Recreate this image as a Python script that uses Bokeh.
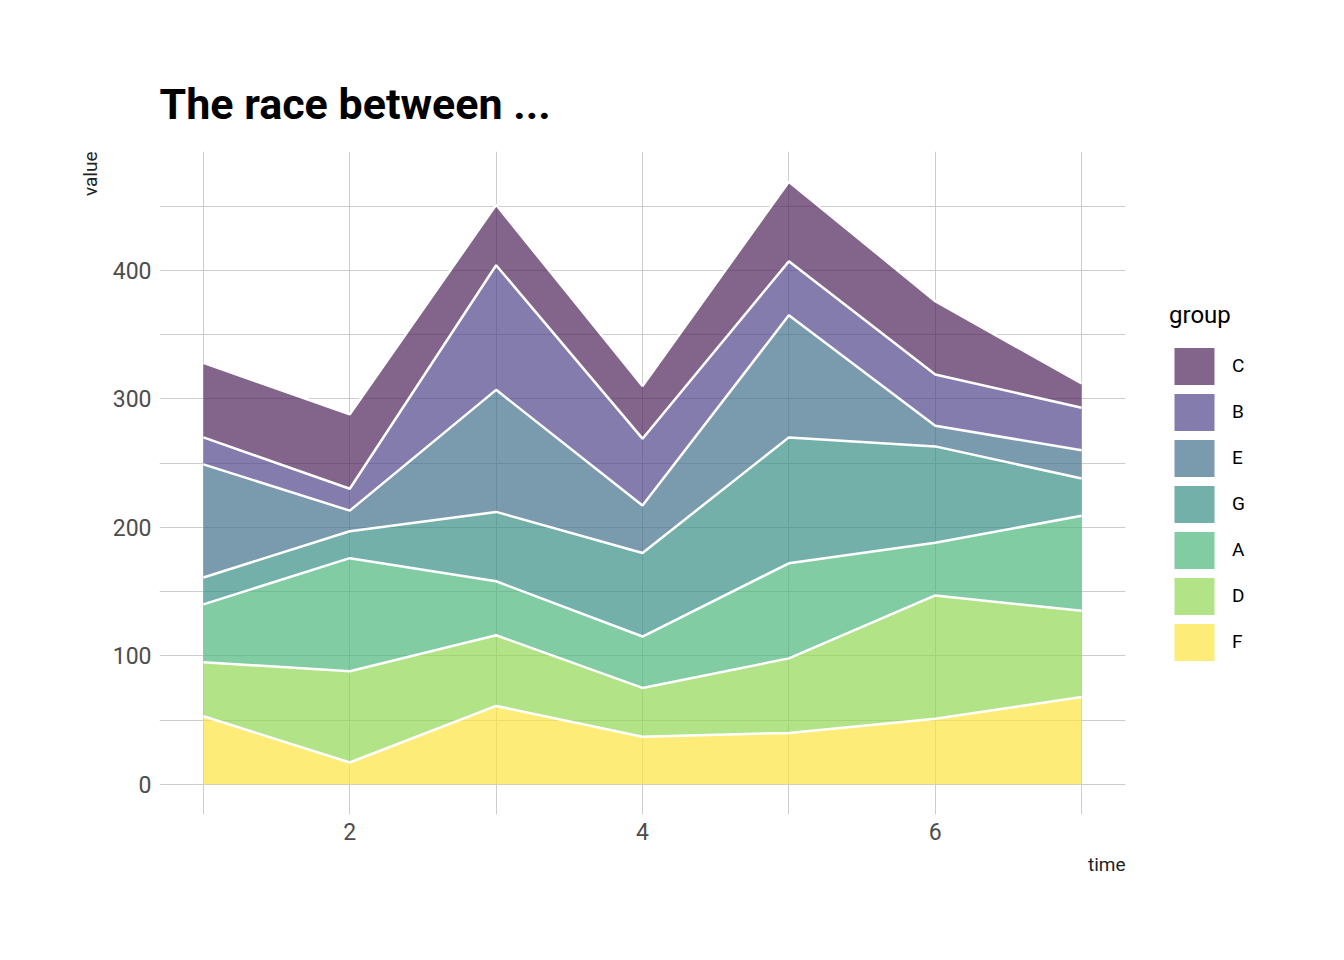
import traceback
from bokeh.plotting import figure
from bokeh.models import (ColumnDataSource, FixedTicker, Legend, LegendItem,
                          Range1d, Title)
from bokeh.embed import file_html
from bokeh.resources import INLINE

# ---- data ----
time = [1, 2, 3, 4, 5, 6, 7]
F = [53, 17, 61, 37, 40, 51, 68]
D = [42, 71, 55, 38, 58, 96, 67]
A = [45, 88, 42, 40, 74, 41, 74]
G = [21, 21, 54, 65, 98, 75, 29]
E = [88, 16, 95, 37, 95, 16, 22]
B = [21, 17, 97, 52, 42, 40, 33]
C = [58, 58, 47, 41, 62, 57, 19]

stack_order = ["F", "D", "A", "G", "E", "B", "C"]   # bottom -> top
legend_order = ["C", "B", "E", "G", "A", "D", "F"]  # as shown in legend
y_ticks = [0, 100, 200, 300, 400]
y_minor = [50, 150, 250, 350, 450]
x_ticks = [2, 4, 6]
x_minor = [1, 3, 5, 7]

# viridis-like fills (tuned so that at alpha 0.7 over white they match the reference)
palette = {"C": "#4E245B", "B": "#51458B", "E": "#416F8B", "G": "#388E86",
           "A": "#4CB67C", "D": "#91D754", "F": "#FEE43E"}
FILL_ALPHA = 0.7

FONT = "Roboto"

series = dict(F=F, D=D, A=A, G=G, E=E, B=B, C=C)
src = ColumnDataSource(data=dict(time=time, **series))

# cumulative tops of each layer (for the white boundary lines)
cum = {}
running = [0] * len(time)
for s in stack_order:
    running = [r + v for r, v in zip(running, series[s])]
    cum["top_" + s] = list(running)
line_src = ColumnDataSource(data=dict(time=time, **cum))


def safe_set(obj, **kw):
    for k, v in kw.items():
        try:
            setattr(obj, k, v)
        except Exception:
            traceback.print_exc()


p = figure(output_backend="svg", toolbar_location=None,
           width=1328, height=944,
           min_border_left=159, min_border_right=202,
           min_border_top=151, min_border_bottom=130,
           x_range=Range1d(0.7, 7.3), y_range=Range1d(-23.5, 492.5))
safe_set(p, frame_width=966, frame_height=663)
p.outline_line_color = None

try:
    p.title.text = "The race between ..."
    p.title.text_font = FONT
    p.title.text_font_style = "bold"
    p.title.text_font_size = "43px"
    p.title.text_color = "black"
    p.title.align = "left"
except Exception:
    traceback.print_exc()
safe_set(p.title, standoff=46)

try:
    for ax in list(p.xaxis) + list(p.yaxis):
        ax.axis_line_color = None
        ax.major_tick_line_color = None
        ax.minor_tick_line_color = None
        ax.major_label_text_font = FONT
        ax.major_label_text_font_size = "23px"
        ax.major_label_text_color = "#4d4d4d"
        ax.major_label_standoff = 8
        safe_set(ax, major_tick_out=0, minor_tick_out=0,
                 major_tick_in=0, minor_tick_in=0)
    p.xaxis[0].ticker = FixedTicker(ticks=x_ticks, minor_ticks=x_minor)
    p.yaxis[0].ticker = FixedTicker(ticks=y_ticks, minor_ticks=y_minor)
except Exception:
    traceback.print_exc()

try:
    for g in list(p.xgrid) + list(p.ygrid):
        g.grid_line_color = "#cccccc"
        g.minor_grid_line_color = "#cccccc"
except Exception:
    traceback.print_exc()

try:
    t_val = Title(text="value", align="right", text_font=FONT,
                  text_font_size="19px", text_font_style="normal",
                  text_color="#222222")
    t_time = Title(text="time", align="right", text_font=FONT,
                   text_font_size="19px", text_font_style="normal",
                   text_color="#222222")
    safe_set(t_val, standoff=16)
    safe_set(t_time, standoff=17)
    p.add_layout(t_val, "left")
    p.add_layout(t_time, "below")
except Exception:
    traceback.print_exc()

areas = []
try:
    areas = p.varea_stack(stackers=stack_order, x="time", source=src,
                          color=[palette[s] for s in stack_order],
                          fill_alpha=FILL_ALPHA)
except Exception:
    traceback.print_exc()

try:
    for s in stack_order:
        p.line(x="time", y="top_" + s, source=line_src,
               line_color="white", line_width=2.5)
except Exception:
    traceback.print_exc()

try:
    rmap = dict(zip(stack_order, areas))
    items = [LegendItem(label=g, renderers=[rmap[g]]) for g in legend_order]
    legend = Legend(items=items, location="center_left")
    legend.title = "group"
    legend.title_text_font = FONT
    legend.title_text_font_size = "24px"
    legend.title_text_font_style = "normal"
    legend.title_text_color = "black"
    legend.label_text_font = FONT
    legend.label_text_font_size = "19px"
    legend.label_text_color = "black"
    legend.label_standoff = 13
    legend.glyph_width = 50
    legend.glyph_height = 46
    legend.spacing = 0
    legend.padding = 4
    legend.margin = 44
    legend.border_line_color = None
    legend.background_fill_alpha = 0
    safe_set(legend, title_standoff=14)
    p.add_layout(legend, "right")
except Exception:
    traceback.print_exc()

html = file_html(p, INLINE)
with open("out.html", "w") as fh:
    fh.write(html)
